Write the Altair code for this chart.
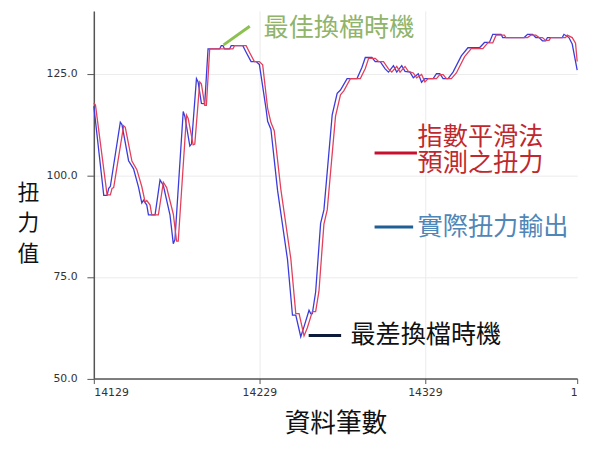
import altair as alt
import pandas as pd

# ---- data (sample number, torque) ----
# actual torque output (blue)
blue_n = [14129, 14135, 14137, 14138, 14139, 14145, 14146, 14150, 14153, 14156,
          14158, 14159, 14161, 14162, 14166, 14169, 14171, 14175, 14177, 14178,
          14183, 14184, 14187, 14188, 14191, 14192, 14194, 14196, 14198, 14205,
          14206, 14207, 14208, 14211, 14212, 14219, 14221, 14224, 14227, 14229,
          14233, 14234, 14236, 14240, 14246, 14249, 14251, 14254, 14256, 14259,
          14260, 14261, 14263, 14266, 14268, 14273, 14276, 14278, 14282, 14288,
          14291, 14293, 14297, 14299, 14302, 14305, 14307, 14310, 14312, 14315,
          14317, 14320, 14322, 14325, 14327, 14329, 14334, 14336, 14338, 14340,
          14343, 14346, 14351, 14355, 14362, 14365, 14368, 14370, 14375, 14376,
          14389, 14391, 14394, 14396, 14398, 14400, 14402, 14403, 14412, 14413,
          14416, 14418, 14421]
blue_v = [117.0, 95.1, 95.1, 96.8, 97.3, 113.1, 112.5, 103.6, 101.6, 97.1,
          93.2, 93.9, 92.7, 90.3, 90.3, 98.9, 97.5, 90.3, 83.2, 84.2,
          115.7, 114.5, 107.2, 107.7, 123.8, 123.0, 117.7, 117.6, 131.1, 131.1,
          131.9, 131.9, 131.1, 131.1, 131.9, 131.9, 130.3, 128.0, 128.0, 127.3,
          116.5, 113.3, 111.3, 96.3, 79.3, 65.6, 65.6, 60.3, 62.8, 66.8,
          66.0, 66.0, 71.3, 88.2, 91.5, 114.9, 120.2, 121.0, 123.8, 123.8,
          126.6, 129.0, 129.0, 128.0, 128.0, 126.2, 125.4, 127.0, 125.4, 127.0,
          125.6, 125.4, 124.0, 125.0, 122.9, 123.8, 123.8, 125.0, 125.0, 123.8,
          123.8, 125.4, 129.4, 131.4, 131.4, 132.7, 132.7, 134.7, 134.7, 133.9,
          133.9, 134.7, 134.7, 133.9, 133.9, 133.1, 133.1, 133.9, 133.9, 134.7,
          133.9, 132.3, 125.9]

# exponential smoothing prediction (red)
red_n = [14129, 14130, 14137, 14139, 14140, 14141, 14147, 14148, 14152, 14155,
         14158, 14160, 14161, 14163, 14164, 14168, 14171, 14173, 14177, 14179,
         14180, 14185, 14186, 14189, 14190, 14193, 14194, 14196, 14197, 14199,
         14213, 14214, 14221, 14223, 14226, 14229, 14231, 14234, 14236, 14238,
         14242, 14248, 14251, 14253, 14256, 14258, 14261, 14263, 14265, 14268,
         14270, 14275, 14278, 14280, 14284, 14290, 14293, 14295, 14299, 14301,
         14304, 14307, 14309, 14312, 14314, 14317, 14319, 14322, 14324, 14327,
         14329, 14331, 14336, 14338, 14340, 14342, 14345, 14348, 14353, 14357,
         14364, 14367, 14370, 14372, 14377, 14378, 14391, 14393, 14396, 14398,
         14400, 14402, 14404, 14405, 14414, 14415, 14418, 14420, 14421]
red_v = [117.8, 117.3, 95.2, 95.2, 96.8, 97.0, 112.2, 111.8, 103.5, 101.4,
         97.2, 93.4, 93.8, 92.7, 90.3, 90.3, 98.3, 97.0, 90.5, 83.8,
         83.8, 114.8, 114.0, 107.5, 107.7, 123.0, 122.5, 117.2, 117.2, 131.1,
         131.1, 131.9, 131.9, 130.3, 128.0, 128.0, 127.2, 116.5, 113.0, 111.0,
         96.5, 79.5, 66.0, 66.0, 60.5, 62.5, 66.5, 66.5, 71.5, 88.0,
         91.5, 114.5, 119.8, 120.8, 123.8, 123.8, 126.3, 128.8, 128.8, 128.0,
         128.0, 126.2, 125.4, 126.8, 125.4, 126.8, 125.6, 125.2, 124.0, 124.8,
         123.0, 123.8, 123.8, 124.8, 124.8, 123.8, 123.8, 125.2, 129.2, 131.2,
         131.2, 132.6, 132.6, 134.5, 134.5, 133.9, 133.9, 134.5, 134.5, 133.9,
         133.9, 133.2, 133.2, 133.9, 133.9, 134.5, 133.9, 132.5, 128.0]

Y_TICKS = [50, 75, 100, 125]
X_TICKS = [14129, 14229, 14329, 14421]

CJK = "Noto Sans CJK TC"
TICK_FONT = "DejaVu Sans"

# ===========================================================
# Series
# ===========================================================

lines = pd.concat([
    pd.DataFrame({"n": blue_n, "v": blue_v, "s": "actual"}),
    pd.DataFrame({"n": red_n, "v": red_v, "s": "pred"}),
])

x_scale = alt.Scale(domain=[14129, 14421], nice=False, zero=False)
y_scale = alt.Scale(domain=[50, 140.45], nice=False, zero=False)

x_axis = alt.Axis(
    values=X_TICKS, format="d",
    labelExpr="datum.value > 14400 ? '1' : datum.label",
    grid=True,
    gridColor=alt.condition("datum.value > 14400", alt.value("transparent"), alt.value("#ebebeb")),
    tickSize=5, tickColor="#555", domainColor="#555", domainWidth=1.5,
    labelFont=TICK_FONT, labelFontSize=11, labelColor="#333", labelPadding=3,
    title="資料筆數", titleFont=CJK, titleFontSize=26, titleFontWeight="normal",
    titleColor="#111", titleY=46, titleBaseline="middle",
)
y_axis = alt.Axis(
    values=Y_TICKS, format=".1f", grid=True, gridColor="#ebebeb",
    tickSize=7, tickColor="#555", domainColor="#555", domainWidth=1.5,
    labelFont=TICK_FONT, labelFontSize=11, labelColor="#333", labelPadding=10,
    title=["扭", "力", "值"], titleFont=CJK, titleFontSize=22, titleFontWeight="normal",
    titleColor="#111", titleAngle=0, titleAlign="center", titleBaseline="top",
    titleX=-67, titleY=174, titleLineHeight=31,
)

series = (
    alt.Chart(lines)
    .mark_line(strokeWidth=1.3)
    .encode(
        x=alt.X("n:Q", scale=x_scale, axis=x_axis),
        y=alt.Y("v:Q", scale=y_scale, axis=y_axis),
        color=alt.Color("s:N", legend=None,
                        scale=alt.Scale(domain=["actual", "pred"], range=["#3b3bdb", "#e3405c"])),
        order=alt.Order("n:Q"),
    )
)

# ===========================================================
# Annotations (callout strokes + labels)
# ===========================================================

strokes = pd.DataFrame({
    "x": [14207.4, 14298.6, 14298.6, 14258.8],
    "x2": [14223.2, 14324.2, 14321.9, 14278.4],
    "y": [132.1, 105.5, 87.3, 60.6],
    "y2": [136.7, 105.5, 87.3, 60.6],
    "c": ["#8cc152", "#c8102e", "#1f5f96", "#0d1b3a"],
})
labels = pd.DataFrame({
    "x": [14231.5, 14324.6, 14324.6, 14284.0],
    "y": [136.2, 109.3, 87.3, 60.6],
    "t": ["最佳換檔時機", "指數平滑法\n預測之扭力", "實際扭力輸出", "最差換檔時機"],
    "c": ["#8fb46a", "#c0282d", "#4f86b8", "#111111"],
})

callouts = (
    alt.Chart(strokes)
    .mark_rule(strokeWidth=3)
    .encode(
        x=alt.X("x:Q", scale=x_scale),
        x2="x2:Q",
        y=alt.Y("y:Q", scale=y_scale),
        y2="y2:Q",
        color=alt.Color("c:N", scale=None),
    )
)
texts = (
    alt.Chart(labels)
    .mark_text(align="left", baseline="middle", font=CJK, fontSize=25.5,
               lineBreak="\n", lineHeight=26)
    .encode(
        x=alt.X("x:Q", scale=x_scale),
        y=alt.Y("y:Q", scale=y_scale),
        text="t:N",
        color=alt.Color("c:N", scale=None),
    )
)

chart = (
    alt.layer(series, callouts, texts)
    .properties(
        width=490, height=372.7,
        padding={"left": 87, "top": 0, "right": 14, "bottom": 64},
        autosize="none", background="white",
    )
    .configure_view(stroke=None)
)

chart.save("out.html", embed_options={"renderer": "svg", "actions": False})
